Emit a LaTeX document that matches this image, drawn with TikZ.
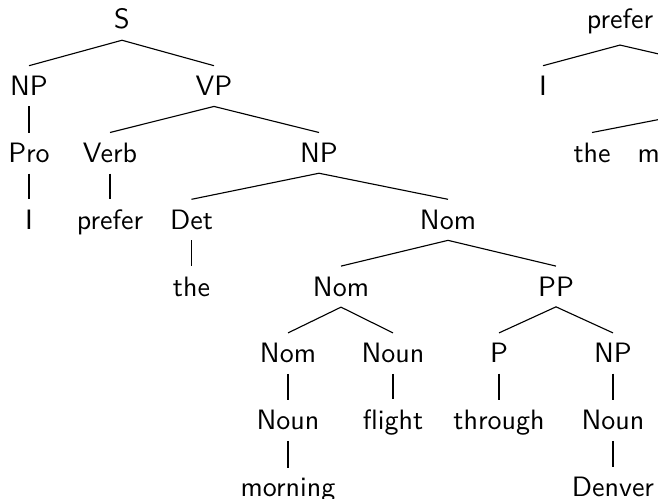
\documentclass[tikz,border=0pt]{standalone}
\begin{document}
\begin{tikzpicture}[x=0.357pt, y=-0.357pt, font=\sffamily,
  tn/.style={anchor=base, inner xsep=2pt, inner ysep=3.6pt},
  br/.style={draw, line width=0.4pt}]
\useasboundingbox (0,0) rectangle (658,499);
\clip (0,0) rectangle (658,499);
% rows: baseline y = 29 + 66.8 r
% constituency tree
\node[tn] (S)   at (122,29)    {S};
\node[tn] (NPa) at (29,95.8)   {NP};
\node[tn] (VP)  at (214,95.8)  {VP};
\node[tn] (Pro) at (29,162.6)  {Pro};
\node[tn] (Verb) at (110,162.6) {Verb};
\node[tn] (NPb) at (319,162.6) {NP};
\node[tn] (I)   at (29,229.4)  {I};
\node[tn] (prefer) at (110,229.4) {prefer};
\node[tn] (Det) at (191.5,229.4) {Det};
\node[tn] (Noma) at (448,229.4) {Nom};
\node[tn] (the) at (191.5,296.2) {the};
\node[tn] (Nomb) at (341,296.2) {Nom};
\node[tn] (PP)  at (556,296.2) {PP};
\node[tn] (Nomc) at (288,363) {Nom};
\node[tn] (Nouna) at (393,363) {Noun};
\node[tn] (P)   at (499,363)   {P};
\node[tn] (NPc) at (613,363)   {NP};
\node[tn] (Nounb) at (288,429.8) {Noun};
\node[tn] (flight) at (393,429.8) {flight};
\node[tn] (through) at (499,429.8) {through};
\node[tn] (Nounc) at (613,429.8) {Noun};
\node[tn] (morning) at (288,496.6) {morning};
\node[tn] (Denver) at (613,496.6) {Denver};
\draw[br] (NPa.north) -- (S.south) -- (VP.north);
\draw[br] (NPa.south) -- (Pro.north);
\draw[br] (Pro.south) -- (I.north);
\draw[br] (Verb.north) -- (VP.south) -- (NPb.north);
\draw[br] (Verb.south) -- (prefer.north);
\draw[br] (Det.north) -- (NPb.south) -- (Noma.north);
\draw[br] (Det.south) -- (the.north);
\draw[br] (Nomb.north) -- (Noma.south) -- (PP.north);
\draw[br] (Nomc.north) -- (Nomb.south) -- (Nouna.north);
\draw[br] (P.north) -- (PP.south) -- (NPc.north);
\draw[br] (Nomc.south) -- (Nounb.north);
\draw[br] (Nouna.south) -- (flight.north);
\draw[br] (P.south) -- (through.north);
\draw[br] (NPc.south) -- (Nounc.north);
\draw[br] (Nounb.south) -- (morning.north);
\draw[br] (Nounc.south) -- (Denver.north);
% dependency tree (cut at the right edge)
\node[tn] (dprefer) at (620,29) {prefer};
\node[tn] (dI) at (543,95.8) {I};
\coordinate (dheadN) at (713,66.5);
\coordinate (dheadS) at (713,109);
\node[tn] (dthe) at (592,162.6) {the};
\node[tn] (dmorning) at (685,162.6) {morning};
\draw[br] (dI.north) -- (dprefer.south) -- (dheadN);
\draw[br] (dthe.north) -- (dheadS) -- (dmorning.north);
\end{tikzpicture}
\end{document}
